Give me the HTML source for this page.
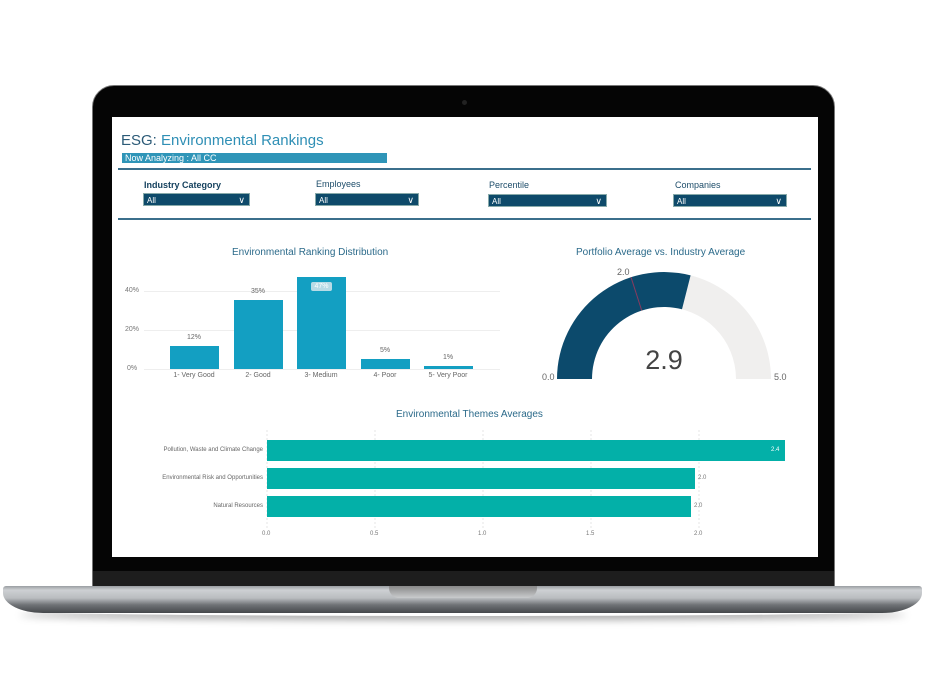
<!DOCTYPE html>
<html><head><style>
body{margin:0;width:926px;height:681px;background:#fff;position:relative;overflow:hidden;font-family:"Liberation Sans",sans-serif}
.a{position:absolute}
.t{position:absolute;white-space:nowrap}
.dd{position:absolute;height:13px;background:#0e4a6a;color:#fff;font-size:8px;line-height:13px;padding-left:3px;box-sizing:border-box;border:1px solid #8aa}
.dd:after{content:"\2228";position:absolute;right:4px;top:0;font-size:9px}
.fl{position:absolute;font-size:9px;color:#1e4d6a}
.yl{position:absolute;font-size:7px;color:#777}
.bl{position:absolute;font-size:7px;color:#666;text-align:center;width:60px}
.bar{position:absolute;background:#139fc2}
.hb{position:absolute;background:#03b0a8;height:21px;left:267px}
</style></head><body>
<div class="a" style="left:92px;top:85px;width:743px;height:502px;background:#050505;border-radius:22px 22px 0 0;border:1px solid #777;box-sizing:border-box"></div>
<div class="a" style="left:462px;top:100px;width:5px;height:5px;border-radius:50%;background:#222"></div>
<div class="a" style="left:93px;top:571px;width:741px;height:15px;background:#1d1d1d"></div>
<div class="a" style="left:112px;top:117px;width:706px;height:440px;background:#fff"></div>
<!-- base -->
<div class="a" style="left:20px;top:606px;width:886px;height:10px;border-radius:50%;box-shadow:0 4px 8px rgba(0,0,0,.35)"></div>
<div class="a" style="left:3px;top:586px;width:919px;height:27px;border-radius:3px 3px 40px 40px/3px 3px 20px 20px;background:linear-gradient(#9a9ea2 0,#cdd0d3 15%,#b9bcbf 45%,#6f7276 70%,#45484b 100%)"></div>
<div class="a" style="left:389px;top:586px;width:148px;height:12px;border-radius:0 0 10px 10px;background:linear-gradient(#888,#c9cbcd)"></div>
<!-- header -->
<div class="t" style="left:121px;top:132px;font-size:15px;color:#2b5a77">ESG: <span style="color:#2f8fb5">Environmental Rankings</span></div>
<div class="a" style="left:122px;top:153px;width:265px;height:10px;background:#2f95b8;color:#fff;font-size:9px;line-height:10px;padding-left:3px;box-sizing:border-box">Now Analyzing : All CC</div>
<div class="a" style="left:118px;top:168px;width:693px;height:2px;background:#3b6f8c"></div>
<div class="fl" style="left:144px;top:180px;font-weight:bold;color:#123f5c">Industry Category</div>
<div class="fl" style="left:316px;top:179px">Employees</div>
<div class="fl" style="left:489px;top:180px">Percentile</div>
<div class="fl" style="left:675px;top:180px">Companies</div>
<div class="dd" style="left:143px;top:193px;width:107px">All</div>
<div class="dd" style="left:315px;top:193px;width:104px">All</div>
<div class="dd" style="left:488px;top:194px;width:119px">All</div>
<div class="dd" style="left:673px;top:194px;width:114px">All</div>
<div class="a" style="left:118px;top:218px;width:693px;height:2px;background:#3b6f8c"></div>
<!-- bar chart -->
<div class="t" style="left:232px;top:247px;font-size:10px;color:#2b6a8a">Environmental Ranking Distribution</div>
<div class="a" style="left:144px;top:291px;width:356px;height:1px;background:#eee"></div>
<div class="a" style="left:144px;top:330px;width:356px;height:1px;background:#eee"></div>
<div class="a" style="left:144px;top:369px;width:356px;height:1px;background:#eee"></div>
<div class="yl" style="left:125px;top:287px">40%</div>
<div class="yl" style="left:125px;top:326px">20%</div>
<div class="yl" style="left:127px;top:365px">0%</div>
<div class="bar" style="left:170px;top:346px;width:49px;height:23px"></div>
<div class="bar" style="left:234px;top:300px;width:49px;height:69px"></div>
<div class="bar" style="left:297px;top:277px;width:49px;height:92px"></div>
<div class="bar" style="left:361px;top:359px;width:49px;height:10px"></div>
<div class="bar" style="left:424px;top:366px;width:49px;height:3px"></div>
<div class="bl" style="left:164px;top:334px">12%</div>
<div class="bl" style="left:228px;top:288px">35%</div>
<div class="a" style="left:311px;top:282px;width:21px;height:9px;background:#b8dbe6;border-radius:2px;font-size:7px;color:#fff;text-align:center;line-height:9px">47%</div>
<div class="bl" style="left:355px;top:347px">5%</div>
<div class="bl" style="left:418px;top:354px">1%</div>
<div class="bl" style="left:164px;top:372px">1- Very Good</div>
<div class="bl" style="left:228px;top:372px">2- Good</div>
<div class="bl" style="left:291px;top:372px">3- Medium</div>
<div class="bl" style="left:355px;top:372px">4- Poor</div>
<div class="bl" style="left:418px;top:372px">5- Very Poor</div>
<!-- gauge -->
<div class="t" style="left:576px;top:247px;font-size:10px;color:#2b6a8a">Portfolio Average vs. Industry Average</div>
<svg class="a" style="left:0;top:0" width="926" height="681">
<path d="M557 379 A107 107 0 0 1 771 379 L736 379 A72 72 0 0 0 592 379 Z" fill="#f0efee"/>
<path d="M557 379 A107 107 0 0 1 690.6 275.4 L682 309.3 A72 72 0 0 0 592 379 Z" fill="#0c4a6c"/>
<line x1="631" y1="277.2" x2="641.7" y2="310.5" stroke="#8a3a5e" stroke-width="1"/>
<text x="664" y="369" font-size="27" fill="#444" text-anchor="middle" font-family="Liberation Sans" font-weight="300">2.9</text>
<text x="542" y="380" font-size="9" fill="#666" font-family="Liberation Sans">0.0</text>
<text x="774" y="380" font-size="9" fill="#666" font-family="Liberation Sans">5.0</text>
<text x="617" y="275" font-size="9" fill="#666" font-family="Liberation Sans">2.0</text>
<g stroke="#e6e6e6" stroke-dasharray="2,2"><line x1="267" y1="430" x2="267" y2="528"/><line x1="375" y1="430" x2="375" y2="528"/><line x1="483" y1="430" x2="483" y2="528"/><line x1="591" y1="430" x2="591" y2="528"/><line x1="699" y1="430" x2="699" y2="528"/></g>
</svg>
<!-- horizontal bars -->
<div class="t" style="left:396px;top:409px;font-size:10px;color:#2b6a8a">Environmental Themes Averages</div>
<div class="hb" style="top:440px;width:518px"></div>
<div class="hb" style="top:468px;width:428px"></div>
<div class="hb" style="top:496px;width:424px"></div>
<div class="t" style="left:771px;top:447px;font-size:6px;color:#fff">2.4</div>
<div class="t" style="left:698px;top:475px;font-size:6px;color:#777">2.0</div>
<div class="t" style="left:694px;top:503px;font-size:6px;color:#777">2.0</div>
<div class="t" style="right:663px;top:447px;font-size:6px;color:#666">Pollution, Waste and Climate Change</div>
<div class="t" style="right:663px;top:475px;font-size:6px;color:#666">Environmental Risk and Opportunities</div>
<div class="t" style="right:663px;top:503px;font-size:6px;color:#666">Natural Resources</div>
<div class="t" style="left:262px;top:531px;font-size:6px;color:#777">0.0</div>
<div class="t" style="left:370px;top:531px;font-size:6px;color:#777">0.5</div>
<div class="t" style="left:478px;top:531px;font-size:6px;color:#777">1.0</div>
<div class="t" style="left:586px;top:531px;font-size:6px;color:#777">1.5</div>
<div class="t" style="left:694px;top:531px;font-size:6px;color:#777">2.0</div>
</body></html>
